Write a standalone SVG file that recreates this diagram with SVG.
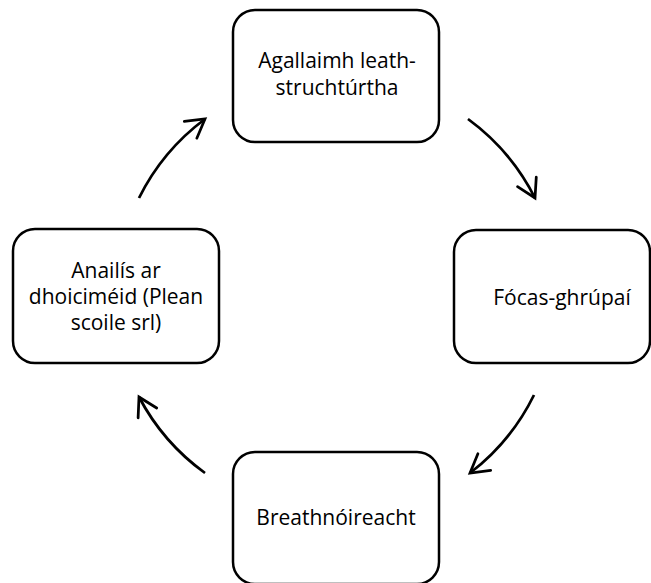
<svg xmlns="http://www.w3.org/2000/svg" width="651" height="583" viewBox="0 0 651 583">
<style>
.box{fill:#ffffff;stroke:#000000;stroke-width:2.5}
.lbl{font-family:"Open Sans","Noto Sans","Liberation Sans",sans-serif;font-size:21px;fill:#000000;text-anchor:middle}
.arc{fill:none;stroke:#000000;stroke-width:2.75;marker-end:url(#head)}
</style>
<defs>
<marker id="head" markerUnits="userSpaceOnUse" viewBox="-22 -14 26 28" refX="0" refY="0" markerWidth="26" markerHeight="28" orient="auto">
<path d="M -18 -10.5 L 0 0 L -18 10.5" fill="none" stroke="#000000" stroke-width="2.75" stroke-linecap="round" stroke-linejoin="miter"/>
</marker>
</defs>
<rect width="651" height="583" fill="#ffffff"/>
<g id="connectors">
<path class="arc" d="M 468 119 A 221 221 0 0 1 535 198"/>
<path class="arc" d="M 534 395 A 221 221 0 0 1 470 473"/>
<path class="arc" d="M 205 473 A 221 221 0 0 1 139 397"/>
<path class="arc" d="M 139 198 A 221 221 0 0 1 205 119"/>
</g>
<g id="node-agallaimh">
<rect class="box" x="233" y="10" width="206" height="132" rx="22"/>
<text class="lbl" x="337" y="68">Agallaimh leath-</text>
<text class="lbl" x="337" y="95">struchtúrtha</text>
</g>
<g id="node-focas">
<rect class="box" x="454" y="230" width="196" height="133" rx="22"/>
<text class="lbl" x="562" y="305">Fócas-ghrúpaí</text>
</g>
<g id="node-breathnoireacht">
<rect class="box" x="233" y="452" width="206" height="132" rx="22"/>
<text class="lbl" x="336" y="525">Breathnóireacht</text>
</g>
<g id="node-anailis">
<rect class="box" x="13" y="229" width="206" height="134" rx="22"/>
<text class="lbl" x="116" y="278">Anailís ar</text>
<text class="lbl" x="116" y="304">dhoiciméid (Plean</text>
<text class="lbl" x="116" y="330">scoile srl)</text>
</g>
</svg>
